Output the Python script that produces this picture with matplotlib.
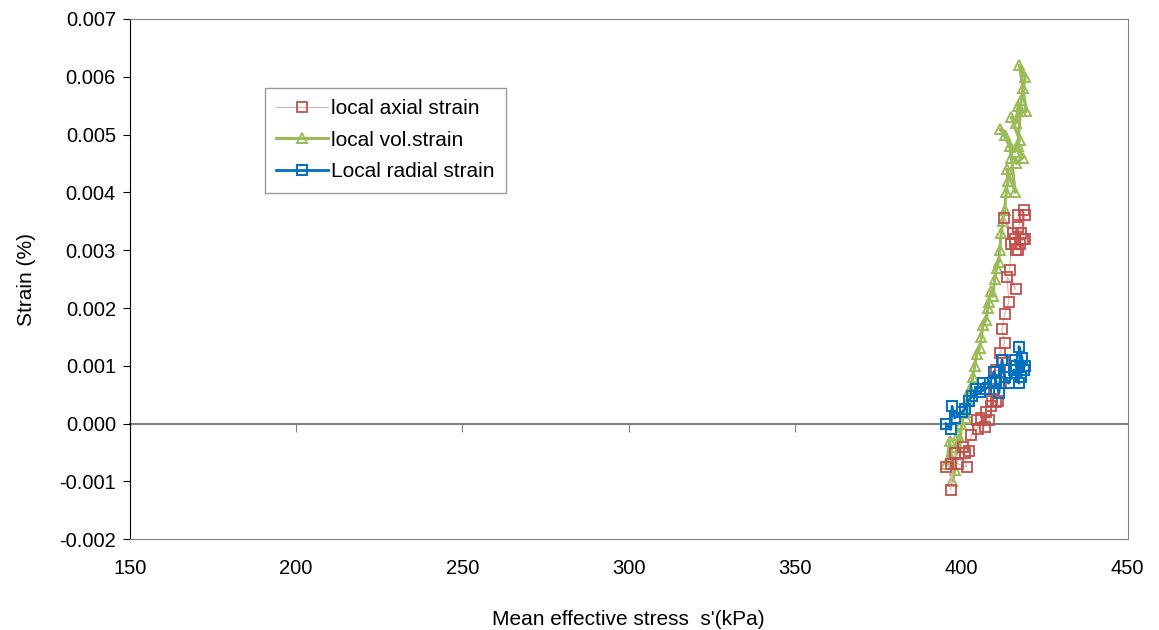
import matplotlib
matplotlib.use("Agg")
import matplotlib.pyplot as plt
from matplotlib.ticker import FormatStrFormatter

plt.rcParams['font.family'] = ['Liberation Sans', 'DejaVu Sans']

# local axial strain (red squares)
axial_x = [395.3, 397.0, 396.8, 398.0, 399.0, 401.6, 400.5, 402.2, 401.0, 403.0,
           404.6, 405.0, 406.0, 407.0, 407.5, 408.3, 409.2, 408.8, 410.4, 409.8,
           411.0, 410.3, 411.5, 412.0, 412.5, 411.5, 413.0, 412.2, 413.0, 414.3,
           413.7, 416.3, 414.5, 415.0, 412.8, 415.5, 416.0, 417.0, 416.5, 417.5,
           418.0, 417.0, 418.8, 419.0, 418.5, 417.0, 416.0, 419.0]
axial_y = [-0.00075, -0.0007, -0.00115, -0.0005, -0.0007, -0.00075, -0.0004, -0.00048, -0.0005, -0.0002,
           0.00007, -0.0001, 0.0001, -0.00005, 0.0002, 0.00007, 0.0004, 0.0003, 0.00038, 0.0006,
           0.0004, 0.00093, 0.0009, 0.0007, 0.0011, 0.00123, 0.0014, 0.00163, 0.0019, 0.0021,
           0.00254, 0.00232, 0.00266, 0.0031, 0.00356, 0.0033, 0.0032, 0.0034, 0.0030, 0.0031,
           0.0033, 0.0036, 0.0037, 0.0036, 0.0032, 0.0030, 0.0031, 0.0032]

# local volumetric strain (green triangles)
vol_x = [395.5, 396.5, 397.0, 397.3, 398.0, 398.5, 399.0, 399.5, 400.0, 401.0,
         401.5, 402.0, 402.5, 403.5, 404.0, 404.6, 405.5, 406.0, 406.5, 407.5,
         408.0, 408.3, 409.0, 409.5, 410.0, 410.6, 411.2, 411.5, 412.0, 412.5,
         413.0, 413.5, 414.0, 413.7, 416.2, 415.0, 414.5, 411.7, 413.0, 416.0,
         417.5, 415.0, 416.5, 417.0, 418.0, 419.5, 418.5, 417.4, 419.2, 418.0,
         417.0, 418.5, 416.5]
vol_y = [-0.0007, -0.0003, -0.0006, -0.0010, -0.0008, -0.0004, -0.0002, -0.0005, 0.0, 0.0002,
         0.0001, 0.0004, 0.0006, 0.0008, 0.0010, 0.0012, 0.0013, 0.0015, 0.0017, 0.0018,
         0.0020, 0.0021, 0.0023, 0.0022, 0.0025, 0.0027, 0.0028, 0.0030, 0.0033, 0.0035,
         0.0037, 0.0040, 0.0042, 0.0044, 0.0040, 0.0046, 0.0048, 0.0051, 0.0050, 0.0047,
         0.0049, 0.0053, 0.0052, 0.0055, 0.0054, 0.0054, 0.0058, 0.0062, 0.0060, 0.0056,
         0.0048, 0.0046, 0.0045]

# local radial strain (blue squares)
rad_x = [395.3, 396.8, 397.2, 398.0, 400.2, 401.0, 402.2, 403.2, 404.4, 405.5,
         407.4, 406.5, 408.5, 409.8, 410.4, 411.3, 412.2, 413.0, 414.2, 415.8,
         417.3, 416.5, 418.8, 418.2, 417.3, 418.0, 416.0, 419.0]
rad_y = [0.0, -0.0001, 0.0003, 0.0001, 0.0002, 0.00025, 0.0004, 0.00047, 0.0006, 0.00055,
         0.0006, 0.0007, 0.0007, 0.0009, 0.00073, 0.00053, 0.0011, 0.0008, 0.0007, 0.00093,
         0.0007, 0.0010, 0.00093, 0.00114, 0.00133, 0.0008, 0.0011, 0.0010]

fig = plt.figure(figsize=(11.59, 6.30), dpi=100)
ax = fig.add_axes([0.112, 0.144, 0.861, 0.826])

ax.plot(axial_x, axial_y, color='#E6B0AE', lw=0.8, marker='s', markersize=7,
        markerfacecolor='none', markeredgecolor='#C0504D', markeredgewidth=1.3,
        label='local axial strain', zorder=3)
ax.plot(vol_x, vol_y, color='#9BBB59', lw=2.2, marker='^', markersize=7,
        markerfacecolor='none', markeredgecolor='#9BBB59', markeredgewidth=1.4,
        label='local vol.strain', zorder=2)
ax.plot(rad_x, rad_y, color='#0070C0', lw=2.0, marker='s', markersize=7,
        markerfacecolor='none', markeredgecolor='#0070C0', markeredgewidth=1.4,
        label='Local radial strain', zorder=4)

ax.set_xlim(150, 450)
ax.set_ylim(-0.002, 0.007)
ax.set_xticks([150, 200, 250, 300, 350, 400, 450])
ax.set_yticks([-0.002 + 0.001 * i for i in range(10)])
ax.yaxis.set_major_formatter(FormatStrFormatter('%.3f'))

for side in ['top', 'right', 'bottom']:
    ax.spines[side].set_color('#808080')
ax.spines['left'].set_color('black')
ax.tick_params(axis='y', direction='out', length=5, labelsize=14.5, colors='black', pad=5)
ax.tick_params(axis='x', length=0, labelsize=14.5, pad=14)

# x axis crossing at zero, with tick marks
zero_frac = (0 - (-0.002)) / (0.007 - (-0.002))
sec = ax.secondary_xaxis(zero_frac)
sec.set_xticks([150, 200, 250, 300, 350, 400, 450])
sec.tick_params(axis='x', direction='out', length=6, color='#808080',
                labelbottom=False, labeltop=False)
sec.spines['bottom'].set_color('#808080')
sec.spines['bottom'].set_linewidth(1.5)
sec.spines['top'].set_color('#808080')
sec.spines['top'].set_linewidth(1.5)

ax.set_xlabel("Mean effective stress  s'(kPa)", fontsize=15, labelpad=23)
ax.set_ylabel("Strain (%)", fontsize=15, labelpad=17)

leg = ax.legend(loc='upper left', bbox_to_anchor=(0.135, 0.868), fontsize=15,
                frameon=True, fancybox=False, edgecolor='#808080',
                handlelength=2.5, borderpad=0.55, labelspacing=0.6,
                handletextpad=0.15, borderaxespad=0)
leg.get_frame().set_linewidth(1.0)

fig.savefig('out.png', dpi=100)
